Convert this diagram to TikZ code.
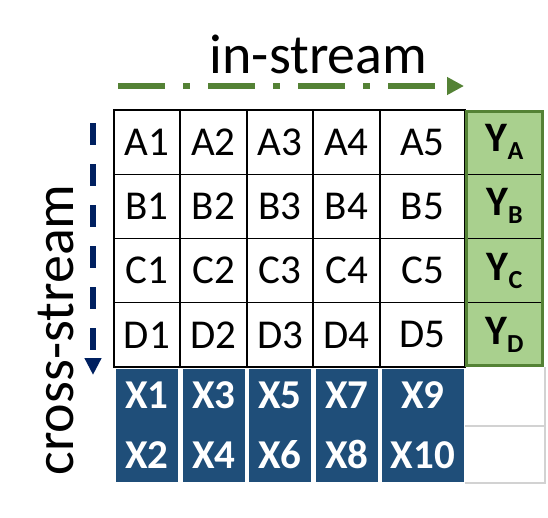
\documentclass[tikz,border=0pt]{standalone}
\usepackage{fontspec}
\setmainfont{Carlito}
\usetikzlibrary{arrows.meta}
\definecolor{streamgreen}{RGB}{84,130,53}
\definecolor{yfill}{RGB}{169,208,142}
\definecolor{xblue}{RGB}{31,78,121}
\definecolor{streamnavy}{RGB}{0,32,96}
\definecolor{cellgray}{RGB}{210,210,210}

\begin{document}
\begin{tikzpicture}[x=1pt,y=-1pt,line cap=butt,
 cell/.style={font=\fontsize{41}{49}\selectfont,inner sep=0pt},
 ylab/.style={font=\fontsize{42}{50}\selectfont\bfseries,inner sep=0pt},
 xblock/.style={fill=xblue,text=white,inner sep=0pt,align=center,
  font=\fontsize{41}{60}\selectfont\bfseries,minimum height=113pt}]
\useasboundingbox (0,0) rectangle (548,517);
% labels of the two directions
\node[font=\fontsize{56}{60}\selectfont,anchor=base] (instream) at (318.5,73) {in-stream};
\node[font=\fontsize{56}{60}\selectfont,anchor=base,rotate=90] (crossstream) at (73,330) {cross-stream};
\coordinate (in0) at (118,86);
\coordinate (in1) at (464,86);
\draw[streamgreen,line width=5.5pt,dash pattern=on 47pt off 18pt on 7pt off 18pt,
 -{Triangle[length=17pt,width=17pt]}] (in0)--(in1);
\coordinate (cr0) at (93,123);
\coordinate (cr1) at (93,375);
\draw[streamnavy,line width=5.5pt,dash pattern=on 22pt off 19pt,
 -{Triangle[length=17pt,width=16pt]}] (cr0)--(cr1);
% cells A1..D5
\foreach \l [count=\r] in {A,B,C,D}{
 \foreach \xa/\xb [count=\c] in {114/180,180/247,247/313,313/380,380/465}{
  \node[cell] (\l\c) at ({(\xa+\xb)/2},{110+64.25*(\r-.5)}) {\l\c};
 }
}
\foreach \x in {180,247,313,380}
 \draw[line width=1.3pt] (\x,110)--(\x,367);
\foreach \y in {174.25,238.5,302.75}
 \draw[line width=1.3pt] (114,\y)--(465,\y);
\draw[line width=1.5pt] (114,110) rectangle (465,367);
% outputs
\fill[yfill] (465,110) rectangle (544,367);
\foreach \y in {174.25,238.5,302.75}
 \draw[line width=.9pt] (465,\y)--(544,\y);
\draw[streamgreen,line width=3pt] (466.5,111.5) rectangle (542.5,365.5);
\foreach \l [count=\r] in {A,B,C,D}
 \node[ylab] (y\l) at (504.5,{110+64.25*(\r-.5)})
  {Y\raisebox{-8pt}{\fontsize{26}{30}\selectfont\bfseries \l}};
% inputs
\foreach \xa/\xb/\p/\q in {116/178/1/2,183/245/3/4,249/311/5/6,316/378/7/8,382/464/9/10}{
 \pgfmathsetmacro\w{\xb-\xa}
 \node[xblock,minimum width=\w pt] (x\p) at ({(\xa+\xb)/2},425.5) {X\p\\X\q};
}
\draw[cellgray,line width=1.5pt] (465,426)--(545,426);
\draw[cellgray,line width=1.5pt] (545,367)--(545,483)--(465,483);
\end{tikzpicture}
\end{document}
